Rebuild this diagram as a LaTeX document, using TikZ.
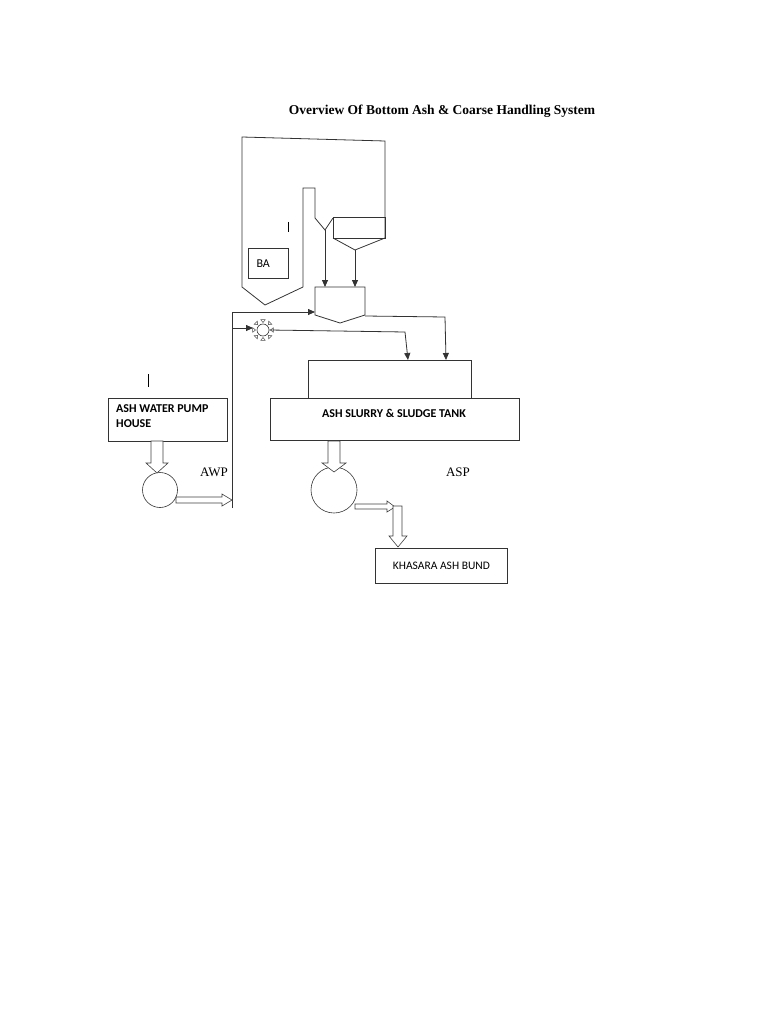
\documentclass[tikz,border=0pt]{standalone}
\usepackage{fontspec}
\setmainfont{Liberation Serif}
\newfontfamily\sansf{Carlito}
\usetikzlibrary{arrows.meta,calc}
\begin{document}
\begin{tikzpicture}[x=1pt,y=-1pt,
  ln/.style={draw=black!80,line width=0.8pt},
  arr/.style={ln,-{Triangle[length=7pt,width=6pt]}},
  boxt/.style={font=\sansf\bfseries\fontsize{12}{14}\selectfont},
  hol/.style={draw=black!75,line width=0.6pt,fill=white}]
\useasboundingbox (0,0) rectangle (768,1024);
\node[font=\bfseries\fontsize{13.5}{16}\selectfont] (title) at (442,111) {Overview Of Bottom Ash \& Coarse Handling System};
% boiler
\draw[ln] (303,287) -- (303,188) -- (315,188) -- (315,218) -- (325,230) -- (333,218);
\draw[ln] (385,238) -- (385,141) -- (242,137) -- (242,287) -- (265,305) -- (303,287);
\draw[ln] (333,217) rectangle (385,238);
\draw[ln] (333,238) -- (355,250) -- (385,238);
\node[draw=black!80,minimum width=40pt,minimum height=30pt,anchor=north west,inner sep=0pt] (ba) at (248,248) {};
\node[font=\sansf\fontsize{12}{14}\selectfont,anchor=west] at (253,264) {BA};
\coordinate (v1) at (325,230); \coordinate (v2) at (355,250);
% collector
\draw[ln] (315,287) -- (365,287) -- (365,315) -- (340,323) -- (315,315) -- cycle;
\coordinate (c1) at (325,287); \coordinate (c2) at (355,287);
\draw[arr] (v1) -- (c1);
\draw[arr] (v2) -- (c2);
% water line
\coordinate (wb) at (232,508); \coordinate (wt) at (232,312);
\draw[arr] (wb) -- (wt) -- (315,312);
\draw[arr] (232,328) -- (253,328);
\node[circle,draw=black!80,line width=0.6pt,minimum size=12pt,inner sep=0pt] (sun) at (263,330) {};
\foreach \a in {0,45,...,315}{
  \draw[line width=0.5pt,draw=black!70] ($(sun)+(\a:7.5)$) -- ($(sun)+(\a+12:10.5)$) -- ($(sun)+(\a-12:10.5)$) -- cycle;}
\draw[arr] (sun.east) -- (405,332) -- (408,360);
\draw[arr] (365,316) -- (445,317) -- (446,360);
% tanks
\draw[ln] (308,360) rectangle (471,398);
\node[draw=black!80,line width=0.8pt,minimum width=249pt,minimum height=42pt,anchor=north west,inner sep=0pt] (tank) at (270,398) {};
\node[boxt] at (394,413) {ASH SLURRY \& SLUDGE TANK};
\node[draw=black!80,line width=0.8pt,minimum width=119pt,minimum height=43pt,anchor=north west,inner sep=0pt] (awph) at (108,398) {};
\node[boxt,anchor=north west,align=left,inner sep=0pt] at (116,404) {ASH WATER PUMP\\[1pt]HOUSE};
\draw[line width=0.6pt] (148,374) -- (148,387);
\draw[line width=0.6pt] (288,222) -- (288,232);
% pumps
\node[circle,draw=black!80,line width=0.6pt,minimum size=35pt,inner sep=0pt] (awp) at (160,490) {};
\node[circle,draw=black!80,line width=0.6pt,minimum size=46pt,inner sep=0pt] (asp) at (334,490) {};
\draw[hol] (151,441) -- (163,441) -- (163,463) -- (168,463) -- (157,473) -- (146,463) -- (151,463) -- cycle;
\draw[hol] (176,497) -- (222,497) -- (222,494) -- (232,500) -- (222,506) -- (222,503) -- (176,503) -- cycle;
\node[font=\fontsize{13}{15}\selectfont] at (214,472) {AWP};
\draw[hol] (328,441) -- (340,441) -- (340,463) -- (346,463) -- (334,472) -- (322,463) -- (328,463) -- cycle;
\draw[hol] (355,504) -- (387,504) -- (387,501) -- (395,507) -- (387,512) -- (387,509) -- (355,509) -- cycle;
\draw[hol] (393,506) -- (402,506) -- (402,536) -- (407,536) -- (398,547) -- (389,536) -- (393,536) -- cycle;
\node[font=\fontsize{13}{15}\selectfont] at (458,472) {ASP};
\node[draw=black!80,line width=0.8pt,minimum width=132pt,minimum height=35pt,anchor=north west,inner sep=0pt,font=\sansf\fontsize{11.5}{14}\selectfont] (kab) at (375,548) {KHASARA ASH BUND};
\end{tikzpicture}
\end{document}
